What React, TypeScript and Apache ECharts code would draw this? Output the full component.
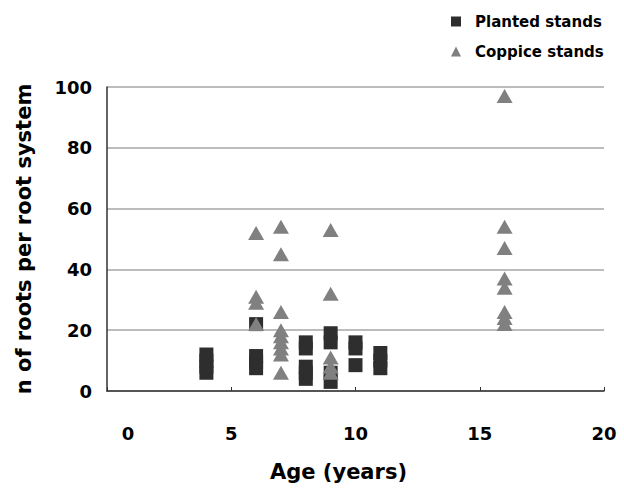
import React, { useEffect, useRef } from "react";
import * as echarts from "echarts";

const plantedAge = [4, 4, 4, 4, 6, 6, 6, 6, 8, 8, 8, 8, 8, 9, 9, 9, 9, 10, 10, 10, 11, 11, 11];
const plantedRoots = [6, 8, 10, 12, 7.5, 9.5, 11.5, 22, 4, 6, 8, 14, 16, 3, 6, 16, 19, 8.5, 14, 16, 7.5, 10, 12.5];

const coppiceAge = [6, 6, 6, 6, 7, 7, 7, 7, 7, 7, 7, 7, 7, 9, 9, 9, 9, 9, 16, 16, 16, 16, 16, 16, 16, 16];
const coppiceRoots = [52, 31, 29, 22, 54, 45, 26, 20, 18, 16, 14, 12, 6, 53, 32, 11, 8, 6, 97, 54, 47, 37, 34, 26, 24, 22];

const xTicks = [0, 5, 10, 15, 20];
const yTicks = [0, 20, 40, 60, 80, 100];

const FONT = "DejaVu Sans";

export default function App() {
  const ref = useRef<HTMLDivElement>(null);
  useEffect(() => {
    if (!ref.current) return;
    const chart = echarts.init(ref.current, undefined, { renderer: "svg" });
    const planted = plantedAge.map((a, i) => [a, plantedRoots[i]]);
    const coppice = coppiceAge.map((a, i) => [a, coppiceRoots[i]]);
    chart.setOption({
      animation: false,
      backgroundColor: "#ffffff",
      grid: { left: 107, right: 20, top: 87, bottom: 104, containLabel: false },
      legend: {
        orient: "vertical",
        left: 446,
        top: 9,
        itemWidth: 10,
        itemHeight: 10,
        itemGap: 15,
        textStyle: { fontFamily: FONT, fontWeight: "bold", fontSize: 15, color: "#000", padding: [0, 0, 0, 9] },
        data: [
          { name: "Planted stands", icon: "rect" },
          { name: "Coppice stands", icon: "triangle" },
        ],
      },
      xAxis: {
        type: "value",
        min: xTicks[0],
        max: xTicks[xTicks.length - 1],
        interval: 5,
        name: "Age (years)",
        nameLocation: "middle",
        nameGap: 70,
        nameTextStyle: { fontFamily: FONT, fontWeight: "bold", fontSize: 21, color: "#000", padding: [0, 34, 0, 0] },
        axisLine: { show: true, lineStyle: { color: "#333", width: 1.5 } },
        axisTick: { show: true, inside: true, length: 4, lineStyle: { color: "#333" } },
        splitLine: { show: false },
        axisLabel: {
          margin: 33,
          fontFamily: FONT,
          fontWeight: "bold",
          fontSize: 18,
          color: "#000",
          formatter: (v: number) => (v === 0 ? "{z|0}" : String(v)),
          rich: { z: { fontFamily: FONT, fontWeight: "bold", fontSize: 18, color: "#000", padding: [0, 0, 0, 42] } },
        },
      },
      yAxis: {
        type: "value",
        min: yTicks[0],
        max: yTicks[yTicks.length - 1],
        interval: 20,
        name: "n of roots per root system",
        nameLocation: "middle",
        nameGap: 73,
        nameTextStyle: { fontFamily: FONT, fontWeight: "bold", fontSize: 21, color: "#000" },
        axisLine: { show: true, lineStyle: { color: "#333", width: 1.5 } },
        axisTick: { show: false },
        splitLine: { show: true, lineStyle: { color: "#a6a6a6", width: 1.5 } },
        axisLabel: { margin: 15, fontFamily: FONT, fontWeight: "bold", fontSize: 18, color: "#000" },
      },
      series: [
        {
          name: "Planted stands",
          type: "scatter",
          symbol: "rect",
          symbolSize: [14, 14],
          itemStyle: { color: "#2e2e2e", opacity: 1 },
          data: planted,
          z: 2,
        },
        {
          name: "Coppice stands",
          type: "scatter",
          symbol: "triangle",
          symbolSize: [16, 14],
          itemStyle: { color: "#808080", opacity: 1 },
          data: coppice,
          z: 3,
        },
      ],
    });
    return () => chart.dispose();
  }, []);
  return <div ref={ref} style={{ position: "fixed", left: 0, top: 0, width: 624, height: 495 }} />;
}
